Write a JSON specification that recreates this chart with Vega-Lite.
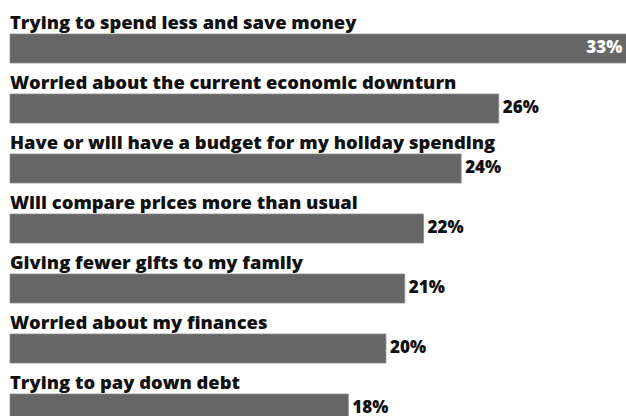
{
  "$schema": "https://vega.github.io/schema/vega-lite/v6.json",
  "width": 616,
  "height": 412,
  "padding": {"left": 10, "top": 4, "right": 0, "bottom": 0},
  "autosize": {"type": "none"},
  "background": "white",
  "config": {"view": {"stroke": null}},
  "data": {
    "values": [
      {"label": "Trying to spend less and save money", "value": 0.33},
      {"label": "Worried about the current economic downturn", "value": 0.26},
      {"label": "Have or will have a budget for my holiday spending", "value": 0.24},
      {"label": "Will compare prices more than usual", "value": 0.22},
      {"label": "Giving fewer gifts to my family", "value": 0.21},
      {"label": "Worried about my finances", "value": 0.20},
      {"label": "Trying to pay down debt", "value": 0.18}
    ]
  },
  "encoding": {
    "y": {
      "field": "label",
      "type": "nominal",
      "sort": [
        "Trying to spend less and save money",
        "Worried about the current economic downturn",
        "Have or will have a budget for my holiday spending",
        "Will compare prices more than usual",
        "Giving fewer gifts to my family",
        "Worried about my finances",
        "Trying to pay down debt"
      ],
      "scale": {"range": [0, 420], "paddingInner": 0, "paddingOuter": 0},
      "axis": null
    }
  },
  "layer": [
    {
      "mark": {"type": "bar", "color": "#666666", "height": 29, "yOffset": 14.5, "stroke": "#8a8a8a", "strokeWidth": 0.8},
      "encoding": {
        "x": {"field": "value", "type": "quantitative", "scale": {"domain": [0, 0.3277], "nice": false}, "axis": null}
      }
    },
    {
      "mark": {"type": "text", "align": "left", "baseline": "alphabetic", "yOffset": -5, "font": "Open Sans", "fontWeight": 800, "fontSize": 18.4, "color": "#111111"},
      "encoding": {
        "x": {"datum": 0, "type": "quantitative"},
        "text": {"field": "label"}
      }
    },
    {
      "transform": [{"filter": "datum.value < 0.325"}],
      "mark": {"type": "text", "align": "left", "baseline": "middle", "dx": 4, "yOffset": 13.5, "font": "Open Sans", "fontWeight": 800, "fontSize": 17, "color": "#111111"},
      "encoding": {
        "x": {"field": "value", "type": "quantitative"},
        "text": {"field": "value", "type": "quantitative", "format": ".0%"}
      }
    },
    {
      "transform": [{"filter": "datum.value >= 0.325"}],
      "mark": {"type": "text", "align": "right", "baseline": "middle", "dx": -8, "yOffset": 14, "font": "Open Sans", "fontWeight": 800, "fontSize": 17, "color": "#ffffff"},
      "encoding": {
        "x": {"field": "value", "type": "quantitative"},
        "text": {"field": "value", "type": "quantitative", "format": ".0%"}
      }
    }
  ]
}
